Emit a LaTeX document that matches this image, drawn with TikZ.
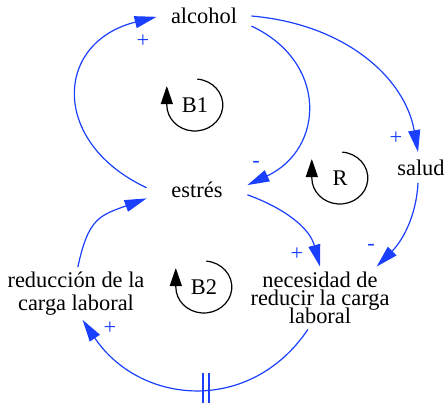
\documentclass[tikz,border=0pt]{standalone}
\usepackage{fontspec}
\setmainfont{Liberation Serif}
\newfontfamily\timesfont{Liberation Serif}
\usepackage{tikz}
\usetikzlibrary{arrows.meta}
\definecolor{linkBlue}{HTML}{1A3FFF}
\newcommand{\varfont}[1]{\timesfont\fontsize{11.2}{#1}\selectfont\lineskiplimit-20pt\relax}

\begin{document}
\begin{tikzpicture}[
    x=0.5pt, y=0.5pt,
    var/.style={inner sep=0pt, align=center, font=\varfont{11.5}},
    link/.style={-{Triangle[length=11pt,width=6pt]}, draw=linkBlue, line width=0.6pt},
    sign/.style={inner sep=0pt, text=linkBlue, font=\varfont{12}},
    loopname/.style={inner sep=0pt, font=\varfont{12}},
    looparr/.style={-{Triangle[length=9pt,width=6pt]}, line width=0.6pt}
  ]
  \useasboundingbox (0,0) rectangle (445,403);

  % variables
  \node[var, minimum width=47pt, minimum height=12pt] (alcohol) at (204,387) {alcohol};
  \node[var, minimum width=50pt, minimum height=12pt] (estres) at (197,213.5) {estrés};
  \node[var, minimum width=30pt, minimum height=15pt] (salud) at (421,235.5) {salud};
  \node[var, minimum width=70pt, minimum height=26pt] (reduccion) at (76,109.5) {reducción de la\\carga laboral};
  \node[var, minimum width=70pt, minimum height=31pt, font=\varfont{9}] (necesidad) at (320,105) {necesidad de\\reducir la carga\\laboral};

  % links
  \draw[link] (estres.178) .. controls +(155:106) and +(194:106) .. (alcohol.181);
  \draw[link] (alcohol.-12) .. controls +(-25:85) and +(25:85) .. (estres.5);
  \draw[link] (alcohol.east) .. controls +(-5:95) and +(100:75) .. (salud.101);
  \draw[link] (salud.259) .. controls +(-93:35) and +(45:35) .. (necesidad.29);
  \draw[link] (estres.-6) .. controls +(-20:40) and +(105:40) .. (necesidad.90);
  \draw[link] (necesidad.249) .. controls +(236:103) and +(-56:103) .. (reduccion.-76);
  \draw[link] (reduccion.86) .. controls +(78:50) and +(200:50) .. (estres.190);

  % delay mark
  \draw[linkBlue, line width=0.6pt] (203,0) -- (203,30) (209,0) -- (209,30);

  % polarities
  \node[sign] (s1) at (143,362) {+};
  \node[sign] (s2) at (256,239) {-};
  \node[sign] (s3) at (396,265) {+};
  \node[sign] (s4) at (371,156) {-};
  \node[sign] (s5) at (297,149) {+};
  \node[sign] (s6) at (110,75) {+};

  % loops
  \node[loopname] (b1) at (195,298) {B1};
  \draw[looparr] (b1) ++(85:26) arc[start angle=85, end angle=-180, x radius=28, y radius=26] -- ++(0,19);
  \node[loopname] (r) at (340,225) {R};
  \draw[looparr] (r) ++(85:26) arc[start angle=85, end angle=-180, x radius=28, y radius=26] -- ++(0,19);
  \node[loopname] (b2) at (204,116) {B2};
  \draw[looparr] (b2) ++(85:26) arc[start angle=85, end angle=-180, x radius=28, y radius=26] -- ++(0,19);
\end{tikzpicture}
\end{document}
